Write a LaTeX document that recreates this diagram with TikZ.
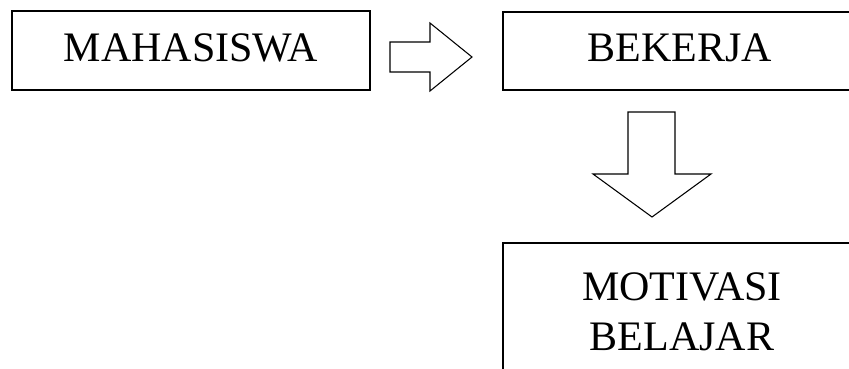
\documentclass[tikz,border=0pt]{standalone}
\usepackage{fontspec}
\setmainfont{Liberation Serif}
\begin{document}
\begin{tikzpicture}[x=0.75pt,y=-0.75pt,
  box/.style={draw=black,line width=1.3pt,rectangle,inner sep=0pt,
    font=\fontsize{31.5pt}{37.5pt}\selectfont,text height=21pt,text depth=5.25pt},
  blockarrow/.style={draw=black,line width=0.8pt,fill=white,line join=miter}]
\clip (0,0) rectangle (849,368);
\fill[white] (0,0) rectangle (849,368);
\node[box,minimum width=358*0.75pt,minimum height=79*0.75pt] (mhs) at (191,50.5) {MAHASISWA};
\node[box,minimum width=354*0.75pt,minimum height=78*0.75pt] (bkj) at (680,51) {BEKERJA};
\node[draw=black,line width=1.3pt,rectangle,minimum width=354*0.75pt,minimum height=137*0.75pt] (mot) at (680,311.5) {};
\node[align=center,font=\fontsize{31.5pt}{37.5pt}\selectfont,inner sep=0pt] (mottext) at (682,311.5) {MOTIVASI\\BELAJAR};
\draw[blockarrow] (390,42) -- (430,42) -- (430,23) -- (472,57) -- (430,91) -- (430,72) -- (390,72) -- cycle;
\draw[blockarrow] (628,112) -- (675,112) -- (675,174) -- (711,174) -- (652,217) -- (593,174) -- (628,174) -- cycle;
\end{tikzpicture}
\end{document}
